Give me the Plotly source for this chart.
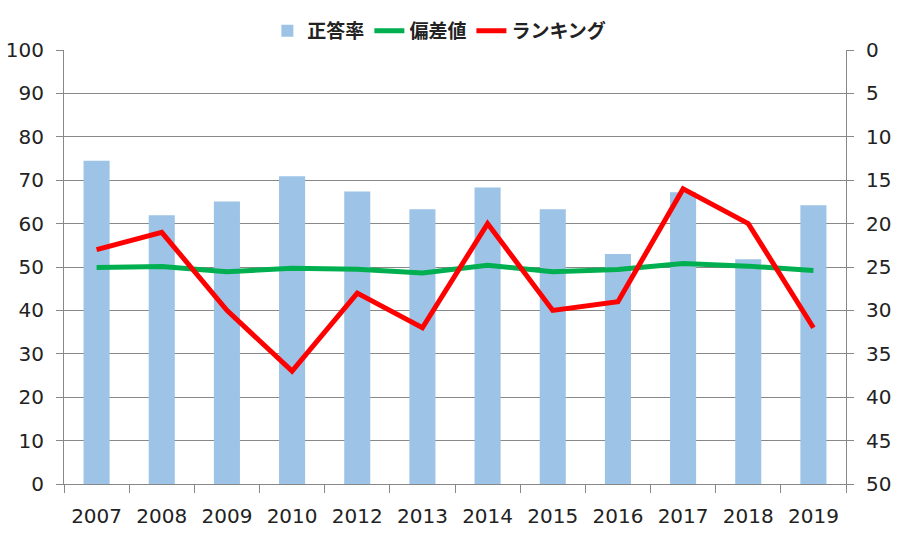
import plotly.graph_objects as go

years = ["2007", "2008", "2009", "2010", "2012", "2013", "2014", "2015", "2016", "2017", "2018", "2019"]
seitou = [74.5, 61.9, 65.1, 70.9, 67.4, 63.3, 68.3, 63.3, 53.0, 67.2, 51.8, 64.2]
hensachi = [49.9, 50.1, 48.9, 49.7, 49.5, 48.6, 50.4, 48.9, 49.4, 50.8, 50.2, 49.2]
ranking = [23, 21, 30, 37, 28, 32, 20, 30, 29, 16, 20, 32]

font_family = "Verdana, DejaVu Sans, sans-serif"

fig = go.Figure()
fig.add_trace(go.Bar(x=years, y=seitou, name="正答率", marker_color="#9DC3E6",
                     marker_line_width=0))
fig.add_trace(go.Scatter(x=years, y=hensachi, name="偏差値", mode="lines",
                         line=dict(color="#00B050", width=5)))
fig.add_trace(go.Scatter(x=years, y=ranking, name="ランキング", mode="lines",
                         line=dict(color="#FF0000", width=5), yaxis="y2"))

fig.update_layout(
    width=905, height=546,
    margin=dict(l=64, r=59, t=48, b=62),
    paper_bgcolor="white", plot_bgcolor="white",
    bargap=0.6,
    font=dict(family=font_family, size=20, color="#222"),
    showlegend=True,
    legend=dict(orientation="h", x=0.48, xanchor="center", y=1.0, yanchor="bottom",
                font=dict(family="Noto Sans CJK JP, sans-serif", size=19, color="#222", weight="bold"),
                itemwidth=30, tracegroupgap=0),
    xaxis=dict(type="category", showline=True, linecolor="#888", linewidth=1,
               ticks="outside", tickson="boundaries", ticklen=8, tickcolor="#888",
               showgrid=False, tickfont=dict(size=20), ticklabelstandoff=14, automargin=False),
    yaxis=dict(range=[0, 100], dtick=10, showgrid=True, gridcolor="#888", gridwidth=1,
               showline=True, linecolor="#888", ticks="outside", ticklen=7, tickcolor="#888",
               zeroline=False, tickfont=dict(size=20), ticklabelstandoff=8, automargin=False),
    yaxis2=dict(range=[50, 0], dtick=5, overlaying="y", side="right", showgrid=False,
                showline=True, linecolor="#888", ticks="outside", ticklen=7, tickcolor="#888",
                zeroline=False, tickfont=dict(size=20), ticklabelstandoff=8, automargin=False),
)

fig.write_html("out.html")
